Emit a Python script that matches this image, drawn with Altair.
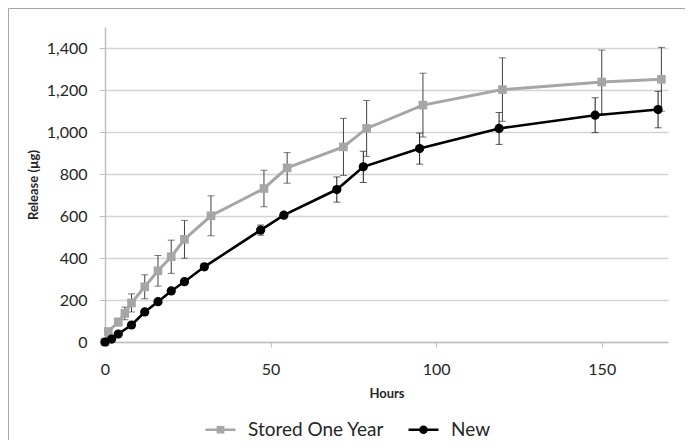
import altair as alt
import pandas as pd

# ---- data ----
series_names = ["Stored One Year", "New"]
series_colors = ["#A6A6A6", "#000000"]

stored_hours = [0, 1, 4, 6, 8, 12, 16, 20, 24, 32, 48, 55, 72, 79, 96, 120, 150, 168]
stored_release = [0, 50, 95, 136, 186, 263, 339, 406, 489, 601, 731, 829, 929, 1017, 1128, 1202, 1238, 1251]
stored_err = [0, 8, 18, 30, 43, 57, 73, 79, 90, 95, 87, 73, 136, 133, 152, 151, 152, 152]

new_hours = [0, 2, 4, 8, 12, 16, 20, 24, 30, 47, 54, 70, 78, 95, 119, 148, 167]
new_release = [0, 14, 38, 81, 143, 192, 243, 287, 358, 533, 604, 726, 834, 921, 1017, 1080, 1107]
new_err = [0, 3, 5, 6, 8, 8, 10, 12, 14, 24, 12, 60, 74, 74, 76, 83, 87]

x_ticks = [0, 50, 100, 150]
y_ticks = [0, 200, 400, 600, 800, 1000, 1200, 1400]

FONT = "Lato"
TEXT = "#262626"
AXC = "#BFBFBF"


def frame_of(hours, rel, err):
    df = pd.DataFrame({"Hours": hours, "Release": rel, "Err": err})
    df["lo"] = df["Release"] - df["Err"]
    df["hi"] = df["Release"] + df["Err"]
    return df


stored = frame_of(stored_hours, stored_release, stored_err)
new = frame_of(new_hours, new_release, new_err)

xs = alt.Scale(domain=[0, 170], nice=False, zero=False)
ys = alt.Scale(domain=[0, 1500], nice=False)

x_axis = alt.Axis(
    values=x_ticks, format="d", title="Hours", grid=False, labelFont=FONT, labelFontSize=16,
    labelColor=TEXT, labelPadding=14, labelFlush=False, labelOverlap=False,
    tickSize=5, tickColor=AXC, domainColor=AXC, domainWidth=1.5,
    titleFont=FONT, titleFontSize=13, titleFontWeight="bold", titleColor=TEXT,
    titleBaseline="alphabetic", titleY=55,
)
y_axis = alt.Axis(
    values=y_ticks, format=",d", title="Release (µg)", grid=True, gridColor="#D4D4D4",
    gridWidth=1.5, labelFont=FONT, labelFontSize=16, labelColor=TEXT, labelPadding=12,
    labelFlush=False, labelOverlap=False, tickSize=6, tickColor=AXC, domainColor=AXC,
    domainWidth=1.5, titleFont=FONT, titleFontSize=13, titleFontWeight="bold",
    titleColor=TEXT, titleAngle=270, titleBaseline="alphabetic", titleX=-68,
    titleY=157.5, titleAlign="center",
)


def X():
    return alt.X("Hours:Q", scale=xs, axis=x_axis)


def Y(field):
    return alt.Y(field, type="quantitative", scale=ys, axis=y_axis)


def series_layers(df, color, shape, size, line_w, err_color):
    base = alt.Chart(df)
    err = base.mark_rule(color=err_color, strokeWidth=1).encode(x=X(), y=Y("lo"), y2="hi:Q")
    cap_lo = base.mark_tick(orient="horizontal", color=err_color, size=7, thickness=1).encode(x=X(), y=Y("lo"))
    cap_hi = base.mark_tick(orient="horizontal", color=err_color, size=7, thickness=1).encode(x=X(), y=Y("hi"))
    line = base.mark_line(color=color, strokeWidth=line_w).encode(x=X(), y=Y("Release"))
    pts = base.mark_point(shape=shape, filled=True, size=size, color=color, opacity=1).encode(x=X(), y=Y("Release"))
    return [err, cap_lo, cap_hi, line, pts]


stored_layers = series_layers(stored, series_colors[0], "square", 75, 3, "#404040")
new_layers = series_layers(new, series_colors[1], "circle", 85, 2.6, "#1a1a1a")

# legend: line-with-marker symbols
sq_path = "M-1,0H1M-0.17,-0.17H0.17V0.17H-0.17Z"
ci_path = ("M-1,0H1M-0.2,0C-0.2,-0.11,-0.11,-0.2,0,-0.2C0.11,-0.2,0.2,-0.11,0.2,0"
           "C0.2,0.11,0.11,0.2,0,0.2C-0.11,0.2,-0.2,0.11,-0.2,0Z")
leg_df = pd.DataFrame({"Series": series_names, "Hours": [0, 0], "Release": [0, 0]})
color_scale = alt.Scale(domain=series_names, range=series_colors)
shape_scale = alt.Scale(domain=series_names, range=[sq_path, ci_path])


def leg():
    return alt.Legend(
        orient="none", legendX=99, legendY=386, direction="horizontal", title=None,
        labelFont=FONT, labelFontSize=19, labelColor=TEXT, symbolSize=900,
        symbolStrokeWidth=2.6, symbolOpacity=1, labelOffset=11, columnPadding=18,
    )


legend_layer = alt.Chart(leg_df).mark_point(filled=True, opacity=0).encode(
    x=X(), y=Y("Release"),
    fill=alt.Fill("Series:N", scale=color_scale, legend=leg()),
    stroke=alt.Stroke("Series:N", scale=color_scale, legend=leg()),
    shape=alt.Shape("Series:N", scale=shape_scale, legend=leg()),
)

border = alt.Chart(pd.DataFrame({"f": [0]})).mark_rect(
    fillOpacity=0, stroke="#A6A6A6", strokeWidth=1
).encode(x=alt.value(-96.5), x2=alt.value(700), y=alt.value(-18.5), y2=alt.value(700))

chart = alt.layer(border, *stored_layers, *new_layers, legend_layer).properties(
    width=563, height=315,
    padding={"left": 97, "top": 19, "right": 17, "bottom": 98},
    autosize=alt.AutoSizeParams(type="none"),
).configure_view(strokeWidth=0)

chart.save("out.html", embed_options={"renderer": "svg", "actions": False})
